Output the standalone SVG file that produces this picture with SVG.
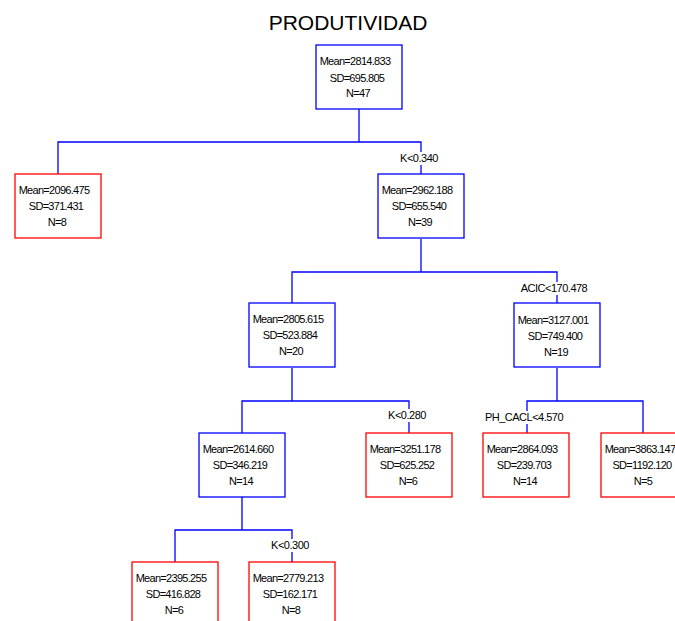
<svg xmlns="http://www.w3.org/2000/svg" width="675" height="621" viewBox="0 0 675 621">
<style>
text{font-family:"Liberation Sans",Arial,sans-serif;fill:#000}
.t{font-size:21px;text-anchor:middle}
.n{font-size:11px;letter-spacing:-0.7px;text-anchor:middle}
.l{font-size:11px;letter-spacing:-0.5px;text-anchor:middle}
.c{fill:none;stroke:#0000ff;stroke-width:1.3}
.bb{fill:#fff;stroke:#0000ff;stroke-width:1.3}
.br{fill:#fff;stroke:#ff0000;stroke-width:1.3}
.bg{fill:#fff}
</style>
<defs>
<rect id="box" x="0" y="0" width="86" height="64"/>
</defs>
<text class="t" x="348" y="30">PRODUTIVIDAD</text>
<g id="connectors">
<path class="c" d="M359,109V142M58,174V142H421V174"/>
<path class="c" d="M421,239V272M292,303V272H557V303"/>
<path class="c" d="M292,368V401M242,433V401H409V433"/>
<path class="c" d="M557,368V401M527,433V401H643V433"/>
<path class="c" d="M242,497V530M175,562V530H292V562"/>
<rect class="bg" x="399" y="152" width="40" height="13"/>
<text class="l" x="419" y="162">K&lt;0.340</text>
<rect class="bg" x="519" y="282" width="70" height="13"/>
<text class="l" x="554" y="292">ACIC&lt;170.478</text>
<rect class="bg" x="388" y="409" width="41" height="13"/>
<text class="l" x="407" y="419">K&lt;0.280</text>
<rect class="bg" x="482" y="411" width="83" height="13"/>
<text class="l" x="524" y="421">PH_CACL&lt;4.570</text>
<rect class="bg" x="270" y="539" width="40" height="13"/>
<text class="l" x="290" y="549">K&lt;0.300</text>
</g>
<g id="root" transform="translate(316,45)">
<use href="#box" class="bb"/>
<text class="n" x="39" y="20">Mean=2814.833</text><text class="n" x="41" y="37">SD=695.805</text><text class="n" x="42" y="52">N=47</text>
</g>
<g id="n1" transform="translate(15,174)">
<use href="#box" class="br"/>
<text class="n" x="39" y="20">Mean=2096.475</text><text class="n" x="41" y="36">SD=371.431</text><text class="n" x="42" y="52">N=8</text>
</g>
<g id="n2" transform="translate(378,174)">
<use href="#box" class="bb"/>
<text class="n" x="39" y="20">Mean=2962.188</text><text class="n" x="41" y="36">SD=655.540</text><text class="n" x="42" y="52">N=39</text>
</g>
<g id="n3" transform="translate(249,303)">
<use href="#box" class="bb"/>
<text class="n" x="39" y="20">Mean=2805.615</text><text class="n" x="41" y="36">SD=523.884</text><text class="n" x="42" y="52">N=20</text>
</g>
<g id="n4" transform="translate(514,303)">
<use href="#box" class="bb"/>
<text class="n" x="39" y="21">Mean=3127.001</text><text class="n" x="41" y="37">SD=749.400</text><text class="n" x="42" y="53">N=19</text>
</g>
<g id="n5" transform="translate(199,433)">
<use href="#box" class="bb"/>
<text class="n" x="39" y="20">Mean=2614.660</text><text class="n" x="41" y="36">SD=346.219</text><text class="n" x="42" y="52">N=14</text>
</g>
<g id="n6" transform="translate(366,433)">
<use href="#box" class="br"/>
<text class="n" x="39" y="20">Mean=3251.178</text><text class="n" x="41" y="36">SD=625.252</text><text class="n" x="42" y="52">N=6</text>
</g>
<g id="n7" transform="translate(483,433)">
<use href="#box" class="br"/>
<text class="n" x="39" y="20">Mean=2864.093</text><text class="n" x="41" y="36">SD=239.703</text><text class="n" x="42" y="52">N=14</text>
</g>
<g id="n8" transform="translate(601,433)">
<use href="#box" class="br"/>
<text class="n" x="39" y="20">Mean=3863.147</text><text class="n" x="41" y="36">SD=1192.120</text><text class="n" x="42" y="52">N=5</text>
</g>
<g id="n9" transform="translate(132,562)">
<use href="#box" class="br"/>
<text class="n" x="39" y="20">Mean=2395.255</text><text class="n" x="41" y="36">SD=416.828</text><text class="n" x="42" y="52">N=6</text>
</g>
<g id="n10" transform="translate(249,562)">
<use href="#box" class="br"/>
<text class="n" x="39" y="20">Mean=2779.213</text><text class="n" x="41" y="36">SD=162.171</text><text class="n" x="42" y="52">N=8</text>
</g>
</svg>
